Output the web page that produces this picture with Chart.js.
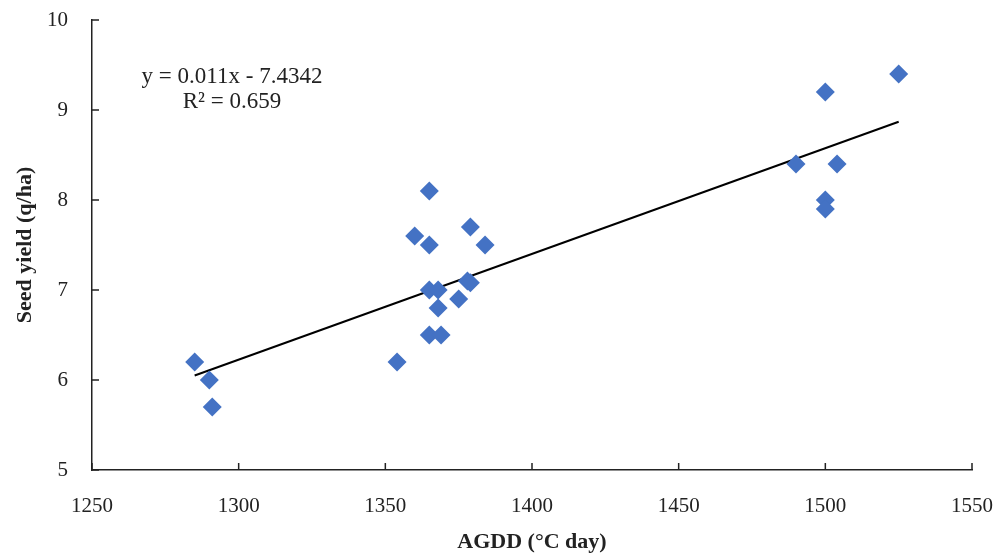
<!DOCTYPE html>
<html>
<head>
<meta charset="utf-8">
<script src="https://cdn.jsdelivr.net/npm/chart.js@4.4.0/dist/chart.umd.min.js"></script>
<style>
  html, body { margin: 0; padding: 0; background: #fff; }
  #wrap { width: 994px; height: 556px; }
</style>
</head>
<body>
<div id="wrap"><canvas id="chartCanvas" width="994" height="556"></canvas></div>
<script>
// AGDD (°C day) vs seed yield (q/ha)
const agdd = [1285, 1290, 1291, 1354, 1360, 1365, 1365, 1365, 1365, 1368, 1368, 1369, 1375, 1379, 1378, 1379, 1384, 1490, 1500, 1504, 1500, 1500, 1525];
const seedYield = [6.2, 6.0, 5.7, 6.2, 7.6, 8.1, 7.5, 7.0, 6.5, 7.0, 6.8, 6.5, 6.9, 7.7, 7.1, 7.08, 7.5, 8.4, 9.2, 8.4, 8.0, 7.9, 9.4];

// trend line end points as drawn
const trendX = [1285, 1525];
const trendY = [6.05, 8.87];

const xTicks = [1250, 1300, 1350, 1400, 1450, 1500, 1550];
const yTicks = [5, 6, 7, 8, 9, 10];
const equationLines = ['y = 0.011x - 7.4342', 'R\u00b2 = 0.659'];

const serif = "'Liberation Serif', 'Times New Roman', serif";

const innerTicks = {
    id: 'innerTicks',
    afterDraw(chart) {
        const ctx = chart.ctx;
        const xs = chart.scales.x, ys = chart.scales.y;
        ctx.save();
        ctx.strokeStyle = '#222';
        ctx.lineWidth = 1.5;
        ctx.beginPath();
        xTicks.forEach(v => {
            const px = xs.getPixelForValue(v);
            ctx.moveTo(px, ys.bottom);
            ctx.lineTo(px, ys.bottom - 7);
        });
        yTicks.forEach(v => {
            const py = ys.getPixelForValue(v);
            ctx.moveTo(xs.left, py);
            ctx.lineTo(xs.left + 7, py);
        });
        ctx.stroke();

        // equation text
        ctx.fillStyle = '#222';
        ctx.font = '23px ' + serif;
        ctx.textBaseline = 'middle';
        ctx.textAlign = 'center';
        ctx.fillText(equationLines[0], 232, 77);
        ctx.fillText(equationLines[1], 232, 102);
        ctx.restore();
    }
};

const chartData = {
    datasets: [{
        type: 'scatter',
        label: 'Seed yield',
        data: agdd.map((x, i) => ({ x: x, y: seedYield[i] })),
        pointStyle: 'rectRot',
        pointRadius: 9.5,
        pointHoverRadius: 9.5,
        backgroundColor: '#4472C4',
        borderColor: '#4472C4',
        borderWidth: 0
    }, {
        type: 'line',
        label: 'Trend',
        data: trendX.map((x, i) => ({ x: x, y: trendY[i] })),
        borderColor: '#000',
        borderWidth: 2,
        pointRadius: 0,
        fill: false
    }]
};

const chartConfig = {
    data: chartData,
    options: {
        responsive: false,
        animation: false,
        layout: { padding: { left: 0, right: 22, top: 20, bottom: 0 } },
        plugins: {
            legend: { display: false },
            tooltip: { enabled: false }
        },
        scales: {
            x: {
                type: 'linear',
                min: 1250,
                max: 1550,
                afterBuildTicks: s => { s.ticks = xTicks.map(v => ({ value: v })); },
                afterFit: s => { s.height = 86; s.paddingLeft = 0; s.paddingRight = 0; },
                grid: { display: false, drawTicks: false },
                border: { display: true, color: '#222', width: 1.5 },
                ticks: {
                    color: '#222',
                    padding: 24,
                    maxRotation: 0,
                    callback: v => String(v),
                    font: { family: serif, size: 21 }
                },
                title: {
                    display: true,
                    text: 'AGDD (\u00b0C day)',
                    color: '#222',
                    font: { family: serif, size: 22, weight: 'bold' },
                    padding: { top: 10, bottom: 0 }
                }
            },
            y: {
                min: 5,
                max: 10,
                afterBuildTicks: s => { s.ticks = yTicks.map(v => ({ value: v })); },
                afterFit: s => { s.width = 92; s.paddingTop = 0; s.paddingBottom = 0; },
                grid: { display: false, drawTicks: false },
                border: { display: true, color: '#222', width: 1.5 },
                ticks: {
                    color: '#222',
                    padding: 24,
                    callback: v => String(v),
                    font: { family: serif, size: 21 }
                },
                title: {
                    display: true,
                    text: 'Seed yield (q/ha)',
                    color: '#222',
                    font: { family: serif, size: 22, weight: 'bold' },
                    padding: { top: 12, bottom: 4 }
                }
            }
        }
    },
    plugins: [innerTicks]
};

const mainChart = new Chart(document.getElementById('chartCanvas').getContext('2d'), chartConfig);
</script>
</body>
</html>
